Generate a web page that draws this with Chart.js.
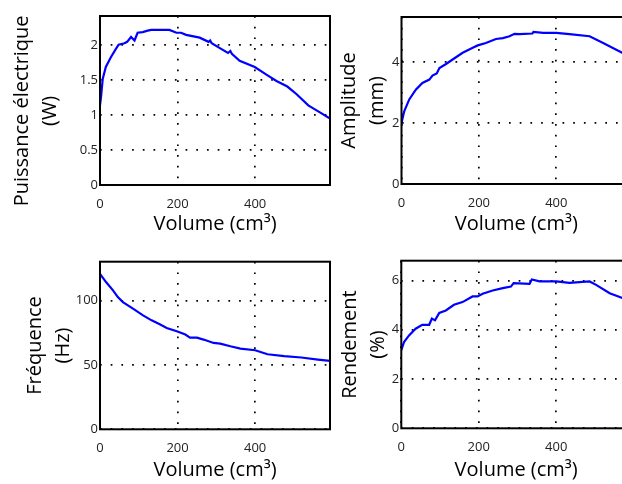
<!DOCTYPE html>
<html>
<head>
<meta charset="utf-8">
<script src="https://cdn.jsdelivr.net/npm/chart.js@4.4.0/dist/chart.umd.min.js"></script>
<style>
  body { margin: 0; width: 622px; height: 484px; overflow: hidden; background: #fff; position: relative; }
  .box { position: absolute; }
</style>
</head>
<body>
<div class="box" style="left:0px;top:0px"><canvas id="c1" width="340" height="240"></canvas></div>
<div class="box" style="left:327px;top:0px"><canvas id="c2" width="313" height="240"></canvas></div>
<div class="box" style="left:13px;top:240px"><canvas id="c3" width="327" height="244"></canvas></div>
<div class="box" style="left:328px;top:240px"><canvas id="c4" width="312" height="244"></canvas></div>
<script>
// data
const volumeTicks = [0, 200, 400];
const volumeMax = 593;

const volP = [0, 3, 7, 15, 28, 41, 48, 63, 70, 80, 89, 97, 110, 123, 132, 179, 197, 209, 222, 257, 280, 284, 288, 309, 330, 336, 340, 360, 399, 429, 455, 483, 507, 537, 567, 593];
const puissance = [1.14, 1.28, 1.52, 1.69, 1.83, 1.95, 2.01, 2.03, 2.05, 2.12, 2.07, 2.18, 2.19, 2.21, 2.22, 2.22, 2.18, 2.18, 2.15, 2.11, 2.05, 2.07, 2.03, 1.96, 1.89, 1.92, 1.88, 1.78, 1.69, 1.58, 1.49, 1.41, 1.30, 1.14, 1.04, 0.95];
const puissanceTicks = [0, 0.5, 1, 1.5, 2];

const volA = [0, 7, 20, 37, 54, 72, 80, 91, 98, 115, 136, 158, 184, 197, 218, 244, 262, 279, 292, 305, 338, 341, 366, 400, 434, 486, 521, 555, 593];
const amplitude = [2.0, 2.38, 2.77, 3.09, 3.31, 3.42, 3.55, 3.62, 3.80, 3.93, 4.11, 4.30, 4.46, 4.54, 4.62, 4.75, 4.78, 4.84, 4.92, 4.91, 4.93, 4.98, 4.95, 4.95, 4.91, 4.84, 4.62, 4.40, 4.15];
const amplitudeTicks = [0, 2, 4];

const volF = [0, 16, 33, 46, 59, 85, 111, 133, 154, 172, 198, 220, 232, 250, 267, 293, 310, 336, 362, 400, 432, 475, 519, 562, 593];
const frequence = [120.6, 114, 108, 102.6, 98.7, 93.6, 88.4, 84.5, 81.4, 78.6, 76, 73.5, 71.1, 71.1, 69.6, 67, 66.5, 64.4, 62.6, 61.3, 58.2, 56.7, 55.7, 54.1, 53.1];
const frequenceTicks = [0, 50, 100];

const volR = [0, 7, 20, 37, 54, 72, 79, 87, 98, 115, 136, 158, 184, 197, 210, 236, 262, 283, 290, 331, 337, 357, 400, 434, 486, 503, 538, 569, 593];
const rendement = [3.17, 3.50, 3.77, 4.04, 4.20, 4.20, 4.45, 4.38, 4.68, 4.78, 5.01, 5.12, 5.35, 5.35, 5.46, 5.59, 5.69, 5.75, 5.89, 5.86, 6.04, 5.96, 5.96, 5.90, 5.96, 5.82, 5.48, 5.30, 5.15];
const rendementTicks = [0, 2, 4, 6];

const FONT = "'Open Sans', sans-serif";

// black frame around the plot area (matlab box on)
const frame = {
  id: 'frame',
  afterDraw(chart) {
    const a = chart.chartArea, ctx = chart.ctx;
    ctx.save();
    ctx.strokeStyle = '#000';
    ctx.lineWidth = 2;
    ctx.strokeRect(a.left, a.top, a.right - a.left, a.bottom - a.top);
    ctx.restore();
  }
};

function makeChart(id, xs, ys, yTicks, yMax, yTitle, lay) {
  const ctx = document.getElementById(id).getContext('2d');
  return new Chart(ctx, {
    type: 'line',
    data: {
      datasets: [{
        data: xs.map((x, i) => ({ x: x, y: ys[i] })),
        borderColor: '#0000ff',
        borderWidth: 2.2,
        pointRadius: 0,
        tension: 0,
        fill: false
      }]
    },
    options: {
      responsive: false,
      animation: false,
      layout: { padding: { top: lay.top, right: lay.right, left: 0, bottom: 0 } },
      plugins: { legend: { display: false }, tooltip: { enabled: false } },
      scales: {
        x: {
          type: 'linear',
          min: 0,
          max: volumeMax,
          afterFit: s => { s.height = lay.xHeight; },
          afterBuildTicks: s => { s.ticks = volumeTicks.map(v => ({ value: v })); },
          ticks: { color: '#222', font: { family: FONT, size: 13 }, padding: 11, maxRotation: 0, callback: v => String(v) },
          grid: { color: '#000', lineWidth: 1.7, drawTicks: false },
          border: { display: false, dash: [1.7, 9] },
          title: {
            display: true,
            text: 'Volume (cm³)',
            color: '#000',
            font: { family: FONT, size: 20, lineHeight: 1.2 },
            padding: { top: 0, bottom: lay.xPad }
          }
        },
        y: {
          min: 0,
          max: yMax,
          afterFit: s => { s.width = lay.yWidth; },
          afterBuildTicks: s => { s.ticks = yTicks.map(v => ({ value: v })); },
          ticks: { color: '#222', font: { family: FONT, size: 13 }, padding: 2, callback: v => String(v) },
          grid: { color: '#000', lineWidth: 1.7, drawTicks: false },
          border: { display: false, dash: [1.7, 9] },
          title: {
            display: true,
            text: yTitle,
            color: '#000',
            font: { family: FONT, size: 20, lineHeight: 1.4 },
            padding: { top: 8, bottom: 0 }
          }
        }
      }
    },
    plugins: [frame]
  });
}

makeChart('c1', volP, puissance, puissanceTicks, 2.42, ['Puissance électrique    ', '(W)    '],
  { top: 16, right: 10, yWidth: 100, xHeight: 55, xPad: 4 });
makeChart('c2', volA, amplitude, amplitudeTicks, 5.47, ['Amplitude', '(mm)'],
  { top: 17, right: 9, yWidth: 74.5, xHeight: 56, xPad: 4 });
makeChart('c3', volF, frequence, frequenceTicks, 130, ['Fréquence', '(Hz)'],
  { top: 21.7, right: 10, yWidth: 87, xHeight: 54.7, xPad: 2 });
makeChart('c4', volR, rendement, rendementTicks, 6.8, ['Rendement', '(%)'],
  { top: 20.7, right: 9, yWidth: 73.3, xHeight: 55.7, xPad: 2 });
</script>
</body>
</html>
